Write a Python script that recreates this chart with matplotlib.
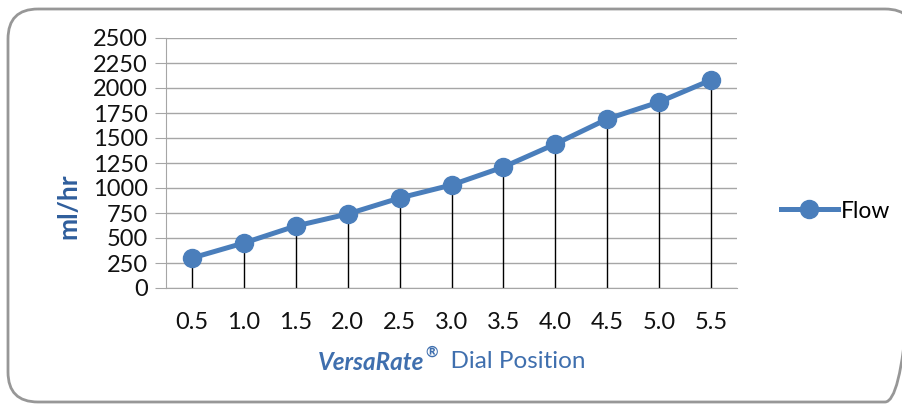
import matplotlib
matplotlib.use("Agg")
import matplotlib.pyplot as plt
from matplotlib.patches import FancyBboxPatch

categories = ["0.5", "1.0", "1.5", "2.0", "2.5", "3.0", "3.5", "4.0", "4.5", "5.0", "5.5"]
flow = [300, 450, 620, 740, 900, 1030, 1210, 1440, 1690, 1860, 2080]
yticks = [0, 250, 500, 750, 1000, 1250, 1500, 1750, 2000, 2250, 2500]

plt.rcParams['font.family'] = ['Lato', 'DejaVu Sans']

W, H = 903, 405
fig = plt.figure(figsize=(W / 100, H / 100), dpi=100)

# background axes in pixel coordinates for the rounded border
bg = fig.add_axes([0, 0, 1, 1], zorder=-5)
bg.axis("off")
border = FancyBboxPatch((8, 9), 907, 393, boxstyle="round,pad=0,rounding_size=30",
                        fill=False, edgecolor="#979797", linewidth=2.0)
bg.add_patch(border)
bg.set_xlim(0, W)
bg.set_ylim(H, 0)

ax = fig.add_axes([166 / W, 1 - 288 / H, (737 - 166) / W, (288 - 38) / H])
x = list(range(len(categories)))
ax.set_xlim(-0.5, len(categories) - 0.5)
ax.set_ylim(0, 2500)
ax.patch.set_alpha(0)

blue = "#4A7EBB"
ax.vlines(x, 0, flow, colors="black", linewidth=1.0, zorder=2)
line, = ax.plot(x, flow, color=blue, linewidth=3.6, marker="o", markersize=13,
                markeredgecolor=blue, zorder=3, label="Flow")

ax.set_yticks(yticks)
ax.set_yticklabels([str(v) for v in yticks])
ax.set_xticks(x)
ax.set_xticklabels(categories)
ax.yaxis.grid(True, color="#A6A6A6", linewidth=1.0)
ax.set_axisbelow(True)
for s in ["top", "right"]:
    ax.spines[s].set_visible(False)
ax.spines["left"].set_color("#A6A6A6")
ax.spines["bottom"].set_color("#A6A6A6")
ax.tick_params(axis="y", length=8, color="#A6A6A6", labelsize=17, pad=5, labelcolor="#111111")
ax.tick_params(axis="x", length=0, labelsize=17, pad=17, labelcolor="#111111")

fig.text(68 / W, 1 - 206 / H, "ml/hr", fontsize=19, fontweight="bold", color="#2F5E9C",
         rotation=90, ha="center", va="center")

leg = fig.legend(handles=[line], labels=["Flow"], loc="center left",
                 bbox_to_anchor=(760 / W, 1 - 211 / H), frameon=False, fontsize=16.5,
                 handlelength=2.5, handletextpad=0.15)

lblcolor = "#3F6FAE"
fig.canvas.draw()
r = fig.canvas.get_renderer()
y0 = 1 - 362 / H
t1 = fig.text(0, y0, "VersaRate", fontsize=17.5, fontweight="bold", fontstyle="italic",
              color=lblcolor, va="center", ha="left")
t2 = fig.text(0, y0 + 9 / H, "®", fontsize=11, fontweight="bold", color=lblcolor,
              va="center", ha="left")
t3 = fig.text(0, y0, "  Dial Position", fontsize=17.5, color=lblcolor, va="center", ha="left")
w1 = t1.get_window_extent(r).width
w2 = t2.get_window_extent(r).width
w3 = t3.get_window_extent(r).width
total = w1 + w2 + w3
cx = 451
start = cx - total / 2
t1.set_x(start / W)
t2.set_x((start + w1 + 1) / W)
t3.set_x((start + w1 + w2 + 1) / W)

fig.savefig("out.png", dpi=100)
